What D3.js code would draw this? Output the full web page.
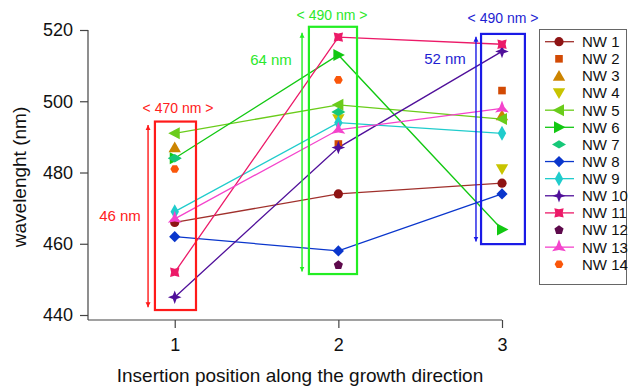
<!DOCTYPE html>
<html>
<head>
<meta charset="utf-8">
<script src="https://cdn.jsdelivr.net/npm/d3@7"></script>
<style>
  html, body { margin: 0; padding: 0; background: #fff; }
  svg { display: block; font-family: "Liberation Sans", Arial, Helvetica, sans-serif; }
</style>
</head>
<body>
<svg id="chart" width="628" height="387"></svg>
<script>
// Insertion positions along the wire and the y-axis ticks
const positions = [1, 2, 3];
const yTicks = [440, 460, 480, 500, 520];

// Emission wavelength (nm) per nanowire at each insertion position (null = not measured)
const seriesNames = ["NW 1", "NW 2", "NW 3", "NW 4", "NW 5", "NW 6", "NW 7",
                     "NW 8", "NW 9", "NW 10", "NW 11", "NW 12", "NW 13", "NW 14"];
const nw1  = [466, 474, 477];
const nw2  = [null, 488, 503];
const nw3  = [487, null, 496];
const nw4  = [null, 495, 481];
const nw5  = [491, 499, 495];
const nw6  = [484, 513, 464];
const nw7  = [484, 497, null];
const nw8  = [462, 458, 474];
const nw9  = [469, 494, 491];
const nw10 = [445, 487, 514];
const nw11 = [452, 518, 516];
const nw12 = [null, 454, null];
const nw13 = [467, 492, 498];
const nw14 = [481, 506, null];
const seriesValues = [nw1, nw2, nw3, nw4, nw5, nw6, nw7, nw8, nw9, nw10, nw11, nw12, nw13, nw14];

// Design wavelength per position and the spread (max - min) found there
const targetLabels = ["< 470 nm >", "< 490 nm >", "< 490 nm >"];
const spreadLabels = ["46 nm", "64 nm", "52 nm"];

// Marker / line styling per series
const styles = [
  { color: "#8e1414", shape: "circle",      line: true,  lineColor: "#a0302c" },
  { color: "#d24a04", shape: "square",      line: false },
  { color: "#cc8400", shape: "triUp",       line: false },
  { color: "#c8c400", shape: "triDown",     line: false },
  { color: "#6acc1a", shape: "triLeft",     line: true },
  { color: "#12c812", shape: "triRight",    line: true },
  { color: "#16c878", shape: "diamondWide", line: false },
  { color: "#0a36cc", shape: "diamond",     line: true },
  { color: "#20cccc", shape: "diamondTall", line: true },
  { color: "#50109a", shape: "star4",       line: true },
  { color: "#ec1a68", shape: "xsquare",     line: true },
  { color: "#5e0a4c", shape: "pentagon",    line: false },
  { color: "#f444cc", shape: "star3",       line: true },
  { color: "#fa560a", shape: "hexagon",     line: false }
];

// Annotation boxes in data coordinates
const annotations = [
  { x0: 0.879, x1: 1.130, y0: 441.4, y1: 494.3, ax: 0.837, ay0: 442.2, ay1: 493.3,
    color: "#ff1a1a", textColor: "#ff2020", labelX: 178, labelY: 108, spanX: 120, spanY: 216 },
  { x0: 1.820, x1: 2.114, y0: 451.5, y1: 520.9, ax: 1.778, ay0: 452.2, ay1: 519.2,
    color: "#22ee22", textColor: "#2ce82c", labelX: 332, labelY: 15, spanX: 271, spanY: 60 },
  { x0: 2.872, x1: 3.140, y0: 459.9, y1: 518.9, ax: 2.841, ay0: 460.6, ay1: 518.1,
    color: "#1a1ae6", textColor: "#1e1ed2", labelX: 503, labelY: 18, spanX: 445, spanY: 59 }
];

const svg = d3.select("#chart");

const x = d3.scaleLinear().domain([0.47, 3]).range([88, 502]);
const y = d3.scaleLinear().domain([438.6, 520]).range([320, 30]);

// Marker geometry
function poly(pts) { return "M" + pts.map(p => p[0].toFixed(2) + "," + p[1].toFixed(2)).join("L") + "Z"; }
function star(n, ro, ri, rot) {
  const pts = [];
  for (let i = 0; i < 2 * n; i++) {
    const r = i % 2 === 0 ? ro : ri;
    const a = rot + i * Math.PI / n;
    pts.push([r * Math.sin(a), -r * Math.cos(a)]);
  }
  return poly(pts);
}
function regular(n, r, rot) {
  const pts = [];
  for (let i = 0; i < n; i++) {
    const a = rot + i * 2 * Math.PI / n;
    pts.push([r * Math.sin(a), -r * Math.cos(a)]);
  }
  return poly(pts);
}
const shapes = {
  circle: () => "M4.6,0A4.6,4.6 0 1,1 -4.6,0A4.6,4.6 0 1,1 4.6,0Z",
  square: () => poly([[-3.8, -3.8], [3.8, -3.8], [3.8, 3.8], [-3.8, 3.8]]),
  triUp: () => poly([[0, -6], [6.2, 4.8], [-6.2, 4.8]]),
  triDown: () => poly([[0, 6], [6.2, -4.8], [-6.2, -4.8]]),
  triLeft: () => poly([[-6.5, 0], [5, -6], [5, 6]]),
  triRight: () => poly([[6.5, 0], [-5, -6], [-5, 6]]),
  diamondWide: () => poly([[-7, 0], [0, -4.2], [7, 0], [0, 4.2]]),
  diamond: () => poly([[-5.6, 0], [0, -5.6], [5.6, 0], [0, 5.6]]),
  diamondTall: () => poly([[-4.2, 0], [0, -7.5], [4.2, 0], [0, 7.5]]),
  star4: () => star(4, 6.8, 2.6, 0),
  xsquare: () => star(4, 6.6, 3.6, Math.PI / 4),
  pentagon: () => regular(5, 4.8, 0),
  star3: () => star(3, 8, 2.8, 0),
  hexagon: () => regular(6, 4.4, Math.PI / 6)
};

// Axes
const axisColor = "#444";
const yAxis = d3.axisLeft(y).tickValues(yTicks).tickSize(8).tickPadding(7).tickSizeOuter(0);
const xAxis = d3.axisBottom(x).tickValues(positions).tickSize(8).tickPadding(10).tickSizeOuter(0).tickFormat(d3.format("d"));

const gy = svg.append("g").attr("transform", "translate(88,0)").call(yAxis);
const gx = svg.append("g").attr("transform", "translate(0,320)").call(xAxis);
[gy, gx].forEach(g => {
  g.select(".domain").attr("stroke", axisColor).attr("stroke-width", 1.2);
  g.selectAll(".tick line").attr("stroke", axisColor).attr("stroke-width", 1.2);
  g.selectAll(".tick text").attr("fill", "#111").attr("font-size", 18)
    .attr("font-family", "'Liberation Sans', Arial, sans-serif");
});
gy.select(".domain").attr("d", `M0,${y(520)}V320`);
gx.select(".domain").attr("d", `M88,0H${x(3)}`);

svg.append("text")
  .attr("transform", "translate(26,177) rotate(-90)")
  .attr("text-anchor", "middle")
  .attr("font-size", 19).attr("fill", "#111")
  .text("wavelenght (nm)");

svg.append("text")
  .attr("x", 300).attr("y", 382)
  .attr("text-anchor", "middle")
  .attr("font-size", 19).attr("fill", "#111")
  .text("Insertion position along the growth direction");

// Arrowhead markers for the spread arrows
const defs = svg.append("defs");
annotations.forEach((a, i) => {
  defs.append("marker")
    .attr("id", "ah" + i)
    .attr("viewBox", "0 0 10 10").attr("refX", 10).attr("refY", 5)
    .attr("markerWidth", 5).attr("markerHeight", 9).attr("markerUnits", "userSpaceOnUse")
    .attr("orient", "auto-start-reverse")
    .append("path").attr("d", "M0,0L10,5L0,10Z").attr("fill", a.color);
});

// Connecting lines
const lineGen = d3.line()
  .defined(d => d.v !== null)
  .x(d => x(d.p)).y(d => y(d.v));

const lineLayer = svg.append("g");
seriesValues.forEach((vals, i) => {
  if (!styles[i].line) return;
  const pts = positions.map((p, k) => ({ p, v: vals[k] })).filter(d => d.v !== null);
  lineLayer.append("path")
    .attr("d", lineGen(pts))
    .attr("fill", "none")
    .attr("stroke", styles[i].lineColor || styles[i].color)
    .attr("stroke-width", 1.3);
});

// Markers
const markerLayer = svg.append("g");
seriesValues.forEach((vals, i) => {
  positions.forEach((p, k) => {
    if (vals[k] === null) return;
    markerLayer.append("path")
      .attr("transform", `translate(${x(p)},${y(vals[k])})`)
      .attr("d", shapes[styles[i].shape]())
      .attr("fill", styles[i].color);
  });
});

// Annotation boxes, arrows and labels
const annLayer = svg.append("g");
annotations.forEach((a, i) => {
  annLayer.append("rect")
    .attr("x", x(a.x0)).attr("y", y(a.y1))
    .attr("width", x(a.x1) - x(a.x0)).attr("height", y(a.y0) - y(a.y1))
    .attr("fill", "none").attr("stroke", a.color).attr("stroke-width", 2.2);
  annLayer.append("line")
    .attr("x1", x(a.ax)).attr("x2", x(a.ax))
    .attr("y1", y(a.ay0)).attr("y2", y(a.ay1))
    .attr("stroke", a.color).attr("stroke-width", 1.4)
    .attr("marker-start", `url(#ah${i})`).attr("marker-end", `url(#ah${i})`);
  annLayer.append("text")
    .attr("x", a.labelX).attr("y", a.labelY).attr("dy", "0.35em")
    .attr("text-anchor", "middle").attr("font-size", 14).attr("fill", a.textColor)
    .text(targetLabels[i]);
  annLayer.append("text")
    .attr("x", a.spanX).attr("y", a.spanY).attr("dy", "0.35em")
    .attr("text-anchor", "middle").attr("font-size", 15).attr("fill", a.textColor)
    .text(spreadLabels[i]);
});

// Legend
const legend = svg.append("g");
legend.append("rect")
  .attr("x", 539.5).attr("y", 29.5).attr("width", 87).attr("height", 255)
  .attr("fill", "#fff").attr("stroke", "#666").attr("stroke-width", 1);
seriesNames.forEach((name, i) => {
  const ly = 41.7 + i * 17.12;
  const st = styles[i];
  if (st.line) {
    legend.append("line")
      .attr("x1", 545).attr("x2", 574).attr("y1", ly).attr("y2", ly)
      .attr("stroke", st.lineColor || st.color).attr("stroke-width", 1.3);
  }
  legend.append("path")
    .attr("transform", `translate(559,${ly})`)
    .attr("d", shapes[st.shape]())
    .attr("fill", st.color);
  legend.append("text")
    .attr("x", 582).attr("y", ly).attr("dy", "0.36em")
    .attr("font-size", 15).attr("fill", "#111")
    .text(name);
});
</script>
</body>
</html>
